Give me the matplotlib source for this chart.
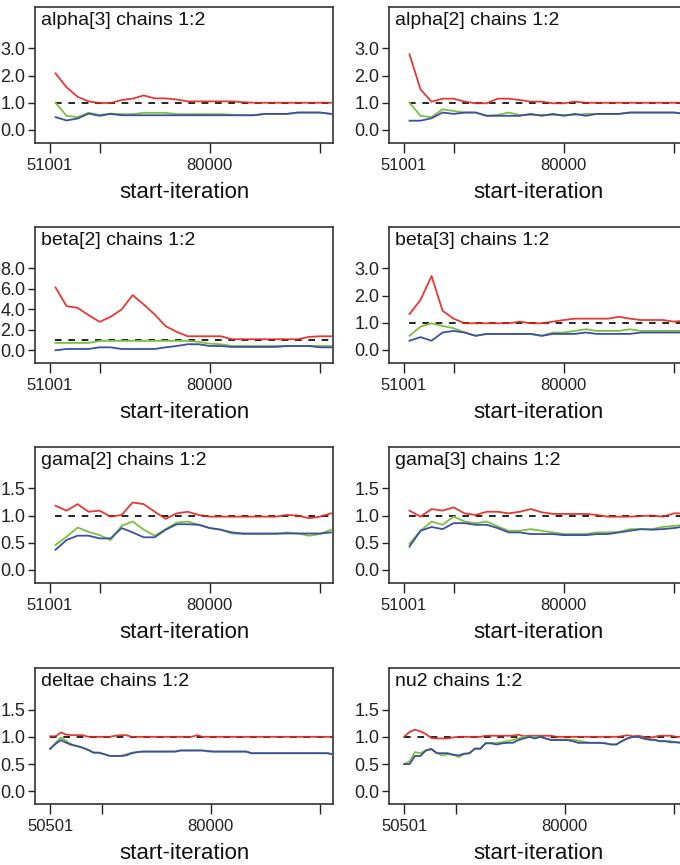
import numpy as np
import matplotlib
matplotlib.use('Agg')
from matplotlib import pyplot as plt

plt.rcParams['font.family'] = ['Liberation Sans', 'DejaVu Sans']

# start-iterations (2000 steps for the first six panels, 1000 for the last two)
iters_a = np.arange(52000, 102001, 2000)
iters_b = np.arange(50501, 102502, 1000)

# alpha[3]
alpha3_red = [2.08, 1.57, 1.22, 1.05, 0.99, 0.99, 1.10, 1.15, 1.27, 1.16, 1.16, 1.12, 1.05,
              1.05, 1.05, 1.05, 1.05, 1.02, 1.00, 1.00, 1.00, 1.00, 1.00, 1.00, 1.00, 1.00]
alpha3_green = [1.00, 0.52, 0.47, 0.63, 0.55, 0.60, 0.58, 0.58, 0.63, 0.63, 0.63, 0.58, 0.58,
                0.58, 0.58, 0.58, 0.56, 0.54, 0.54, 0.59, 0.59, 0.59, 0.64, 0.64, 0.64, 0.59]
alpha3_blue = [0.47, 0.35, 0.42, 0.60, 0.52, 0.59, 0.54, 0.54, 0.54, 0.54, 0.54, 0.54, 0.54,
               0.54, 0.54, 0.54, 0.54, 0.54, 0.54, 0.59, 0.59, 0.59, 0.64, 0.64, 0.64, 0.59]

# alpha[2]
alpha2_red = [2.78, 1.49, 1.04, 1.15, 1.15, 1.04, 0.98, 0.98, 1.15, 1.15, 1.10, 1.04, 1.04,
              0.98, 0.98, 1.04, 1.00, 1.00, 1.00, 1.00, 1.00, 1.00, 1.00, 1.00, 1.00, 1.00]
alpha2_green = [1.00, 0.52, 0.47, 0.76, 0.70, 0.64, 0.64, 0.52, 0.55, 0.64, 0.55, 0.55, 0.55,
                0.55, 0.55, 0.55, 0.59, 0.59, 0.59, 0.59, 0.64, 0.64, 0.64, 0.64, 0.64, 0.59]
alpha2_blue = [0.34, 0.34, 0.43, 0.64, 0.59, 0.64, 0.64, 0.52, 0.52, 0.52, 0.52, 0.59, 0.52,
               0.59, 0.52, 0.59, 0.52, 0.59, 0.59, 0.59, 0.64, 0.64, 0.64, 0.64, 0.64, 0.59]

# beta[2]
beta2_red = [6.14, 4.31, 4.15, 3.43, 2.78, 3.27, 3.99, 5.39, 4.48, 3.50, 2.35, 1.80, 1.37,
             1.37, 1.37, 1.37, 1.08, 1.08, 1.08, 1.08, 1.08, 1.08, 1.08, 1.31, 1.37, 1.37]
beta2_green = [0.72, 0.72, 0.72, 0.72, 0.92, 0.92, 0.92, 0.92, 0.92, 0.92, 0.92, 0.92, 0.92,
               0.82, 0.65, 0.59, 0.42, 0.42, 0.42, 0.42, 0.42, 0.42, 0.42, 0.42, 0.42, 0.42]
beta2_blue = [0.00, 0.13, 0.13, 0.13, 0.29, 0.29, 0.13, 0.13, 0.13, 0.13, 0.29, 0.42, 0.59,
              0.59, 0.42, 0.42, 0.33, 0.33, 0.33, 0.33, 0.33, 0.42, 0.42, 0.42, 0.29, 0.29]

# beta[3]
beta3_red = [1.32, 1.84, 2.72, 1.44, 1.15, 0.98, 0.98, 0.98, 0.98, 0.98, 1.04, 0.98, 0.98,
             1.04, 1.10, 1.15, 1.15, 1.15, 1.15, 1.22, 1.15, 1.10, 1.10, 1.10, 1.04, 1.08]
beta3_green = [0.52, 0.86, 0.98, 0.88, 0.80, 0.64, 0.52, 0.59, 0.59, 0.59, 0.59, 0.59, 0.52,
               0.64, 0.64, 0.70, 0.76, 0.70, 0.70, 0.70, 0.76, 0.70, 0.70, 0.70, 0.70, 0.70]
beta3_blue = [0.34, 0.47, 0.34, 0.64, 0.70, 0.64, 0.52, 0.59, 0.59, 0.59, 0.59, 0.59, 0.52,
              0.59, 0.59, 0.59, 0.64, 0.59, 0.59, 0.59, 0.59, 0.64, 0.64, 0.64, 0.64, 0.64]

# gama[2]
gama2_red = [1.18, 1.09, 1.21, 1.07, 1.09, 0.98, 1.01, 1.24, 1.21, 1.07, 0.94, 1.04, 1.07,
             1.01, 0.98, 0.98, 0.98, 0.98, 0.98, 0.98, 0.98, 1.01, 1.00, 0.95, 0.98, 1.04]
gama2_green = [0.46, 0.61, 0.78, 0.70, 0.64, 0.55, 0.81, 0.89, 0.74, 0.63, 0.75, 0.87, 0.89,
               0.83, 0.77, 0.74, 0.67, 0.66, 0.66, 0.66, 0.66, 0.69, 0.67, 0.63, 0.66, 0.74]
gama2_blue = [0.37, 0.55, 0.63, 0.63, 0.58, 0.58, 0.77, 0.69, 0.60, 0.60, 0.74, 0.84, 0.84,
              0.83, 0.77, 0.74, 0.69, 0.67, 0.67, 0.67, 0.67, 0.67, 0.67, 0.67, 0.67, 0.69]

# gama[3]
gama3_red = [1.09, 0.98, 1.12, 1.09, 1.15, 1.04, 1.01, 1.07, 1.07, 1.04, 1.07, 1.12, 1.06,
             1.03, 1.03, 1.03, 1.03, 1.01, 0.98, 0.98, 0.98, 0.99, 1.00, 0.98, 1.04, 1.04]
gama3_green = [0.48, 0.72, 0.89, 0.83, 0.98, 0.89, 0.86, 0.89, 0.80, 0.72, 0.72, 0.75, 0.72,
               0.69, 0.66, 0.66, 0.66, 0.69, 0.69, 0.70, 0.75, 0.75, 0.75, 0.79, 0.81, 0.83]
gama3_blue = [0.43, 0.72, 0.79, 0.75, 0.86, 0.86, 0.83, 0.83, 0.77, 0.69, 0.69, 0.66, 0.66,
              0.66, 0.64, 0.64, 0.64, 0.66, 0.66, 0.69, 0.72, 0.75, 0.74, 0.75, 0.77, 0.80]

# deltae
deltae_red = [1.01, 1.01, 1.08, 1.04, 1.03, 1.03, 1.03, 1.00, 1.00, 1.00,
              1.00, 1.00, 1.02, 1.03, 1.03, 1.00, 1.00, 1.00, 1.00, 1.00,
              1.00, 1.00, 1.00, 1.00, 1.00, 1.00, 1.00, 1.03, 1.00, 1.00,
              1.00, 1.00, 1.00, 1.00, 1.00, 1.00, 1.00, 1.00, 1.00, 1.00,
              1.00, 1.00, 1.00, 1.00, 1.00, 1.00, 1.00, 1.00, 1.00, 1.00,
              1.00, 1.00, 1.00]
deltae_green = [0.78, 0.89, 0.99, 0.92, 0.86, 0.83, 0.80, 0.76, 0.71, 0.71,
                0.68, 0.65, 0.65, 0.65, 0.68, 0.71, 0.72, 0.73, 0.73, 0.73,
                0.73, 0.73, 0.73, 0.73, 0.75, 0.75, 0.75, 0.75, 0.75, 0.73,
                0.73, 0.73, 0.73, 0.73, 0.73, 0.73, 0.73, 0.70, 0.70, 0.70,
                0.70, 0.70, 0.70, 0.70, 0.70, 0.70, 0.70, 0.70, 0.70, 0.70,
                0.70, 0.70, 0.67]
deltae_blue = [0.78, 0.87, 0.94, 0.89, 0.85, 0.83, 0.80, 0.76, 0.71, 0.71,
               0.68, 0.65, 0.65, 0.65, 0.66, 0.70, 0.72, 0.73, 0.73, 0.73,
               0.73, 0.73, 0.73, 0.73, 0.75, 0.75, 0.75, 0.75, 0.75, 0.74,
               0.73, 0.73, 0.73, 0.73, 0.73, 0.73, 0.73, 0.70, 0.70, 0.70,
               0.70, 0.70, 0.70, 0.70, 0.70, 0.70, 0.70, 0.70, 0.70, 0.70,
               0.70, 0.70, 0.68]

# nu2
nu2_red = [1.00, 1.09, 1.13, 1.10, 1.05, 0.98, 0.97, 0.97, 0.97, 0.99,
           1.00, 1.00, 1.00, 1.00, 1.00, 1.02, 1.02, 1.02, 1.02, 1.02,
           1.02, 1.04, 1.01, 1.02, 1.02, 1.02, 1.02, 1.02, 1.00, 1.00,
           1.00, 1.00, 1.00, 1.00, 1.00, 1.00, 1.00, 1.00, 1.00, 1.00,
           1.01, 1.03, 1.01, 1.02, 1.00, 0.98, 1.00, 1.02, 1.02, 1.02,
           1.00, 1.00, 1.00]
nu2_green = [0.50, 0.55, 0.72, 0.70, 0.75, 0.77, 0.71, 0.66, 0.68, 0.68,
             0.63, 0.68, 0.70, 0.79, 0.79, 0.89, 0.89, 0.89, 0.90, 0.92,
             0.94, 0.97, 1.00, 1.00, 1.00, 1.00, 0.97, 0.95, 0.95, 0.95,
             0.95, 0.95, 0.93, 0.91, 0.89, 0.89, 0.89, 0.88, 0.86, 0.86,
             0.92, 0.97, 1.00, 1.00, 0.97, 0.95, 0.95, 0.92, 0.92, 0.92,
             0.90, 0.89, 0.88]
nu2_blue = [0.50, 0.50, 0.65, 0.65, 0.75, 0.78, 0.70, 0.70, 0.70, 0.67,
            0.66, 0.69, 0.70, 0.78, 0.78, 0.88, 0.88, 0.86, 0.88, 0.89,
            0.89, 0.94, 0.97, 1.00, 0.97, 1.00, 0.97, 0.94, 0.94, 0.94,
            0.94, 0.92, 0.89, 0.89, 0.89, 0.89, 0.89, 0.88, 0.86, 0.86,
            0.92, 0.97, 1.00, 1.00, 0.97, 0.95, 0.94, 0.92, 0.92, 0.90,
            0.90, 0.89, 0.88]

titles = ['alpha[3] chains 1:2', 'alpha[2] chains 1:2', 'beta[2] chains 1:2', 'beta[3] chains 1:2',
          'gama[2] chains 1:2', 'gama[3] chains 1:2', 'deltae chains 1:2', 'nu2 chains 1:2']
series = [(iters_a, alpha3_red, alpha3_green, alpha3_blue),
          (iters_a, alpha2_red, alpha2_green, alpha2_blue),
          (iters_a, beta2_red, beta2_green, beta2_blue),
          (iters_a, beta3_red, beta3_green, beta3_blue),
          (iters_a, gama2_red, gama2_green, gama2_blue),
          (iters_a, gama3_red, gama3_green, gama3_blue),
          (iters_b, deltae_red, deltae_green, deltae_blue),
          (iters_b, nu2_red, nu2_green, nu2_blue)]
yticks = [[0, 1, 2, 3], [0, 1, 2, 3], [0, 2, 4, 6, 8], [0, 1, 2, 3],
          [0, 0.5, 1.0, 1.5], [0, 0.5, 1.0, 1.5], [0, 0.5, 1.0, 1.5], [0, 0.5, 1.0, 1.5]]
ylims = [(-0.48, 4.52), (-0.48, 4.52), (-1.24, 12.04), (-0.48, 4.52),
         (-0.24, 2.26), (-0.24, 2.26), (-0.23, 2.26), (-0.23, 2.26)]
first_iter = [51001] * 6 + [50501] * 2
xlims = [(48280, 102360)] * 6 + [(47730, 102480)] * 2

RED = '#e2241c'
GREEN = '#7ac23c'
BLUE = '#3d4fa2'

W, H = 680, 865
fig = plt.figure(figsize=(W / 100, H / 100), dpi=100)

col_left = [35, 389]
row_top = [7, 227, 447, 668]
aw, ah = 298, 136

for k in range(8):
    r, c = divmod(k, 2)
    left = col_left[c] / W
    bottom = 1 - (row_top[r] + ah) / H
    ax = fig.add_axes([left, bottom, aw / W, ah / H])
    x, red, green, blue = series[k]
    ax.plot([x[0], x[-1]], [1, 1], color='black', lw=1.2, ls=(0, (4, 4)), zorder=1)
    ax.plot(x, red, color=RED, lw=1.3, alpha=0.9, zorder=2)
    ax.plot(x, green, color=GREEN, lw=1.3, zorder=3)
    ax.plot(x, blue, color=BLUE, lw=1.3, zorder=4)
    ax.set_xlim(*xlims[k])
    ax.set_ylim(*ylims[k])
    ax.set_yticks(yticks[k])
    ax.set_yticklabels(['%.1f' % v for v in yticks[k]])
    ax.set_xticks([first_iter[k], 60000, 80000, 100000])
    ax.set_xticklabels([str(first_iter[k]), '', '80000', ''])
    ax.tick_params(axis='y', direction='out', length=5, width=1, labelsize=13, pad=2, colors='#222222')
    ax.tick_params(axis='x', direction='out', length=7, width=1, labelsize=12, pad=4, colors='#222222')
    for s in ax.spines.values():
        s.set_color('#333333')
        s.set_linewidth(1.2)
    ax.text(0.02, 0.965, titles[k], transform=ax.transAxes, ha='left', va='top',
            fontsize=14, color='#111111')
    ax.set_xlabel('start-iteration', fontsize=16, labelpad=6, color='#111111')

fig.savefig('out.png', dpi=100)
